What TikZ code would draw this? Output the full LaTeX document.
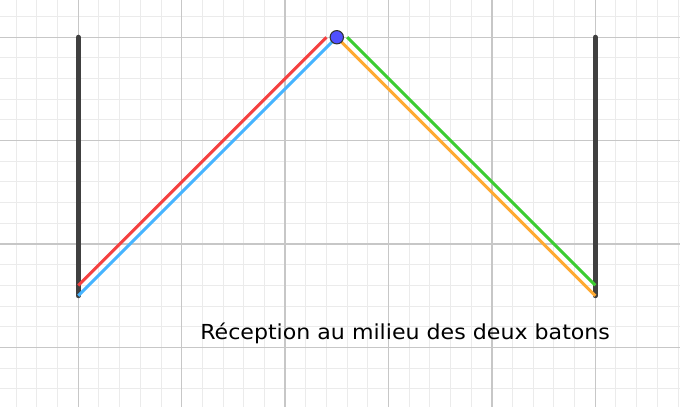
\documentclass[tikz,border=0pt]{standalone}
\usepackage{fontspec}
\setmainfont{DejaVu Sans}
\definecolor{rouge}{RGB}{245,64,64}
\definecolor{bleu}{RGB}{70,180,255}
\definecolor{vert}{RGB}{60,205,50}
\definecolor{jaune}{RGB}{255,170,50}
\definecolor{pointbleu}{RGB}{80,80,255}
\definecolor{baton}{RGB}{64,64,64}
\begin{document}
\begin{tikzpicture}[x=77.55pt,y=77.55pt,
  mineur/.style={draw=black!8,line width=0.75pt},
  majeur/.style={draw=black!22,line width=1pt},
  batonstyle/.style={draw=baton,line width=3.75pt,line cap=round},
  trajet/.style={line width=2.25pt}]
\clip (-0.757,-0.567) rectangle (5.819,3.36);
\fill[white] (-0.757,-0.567) rectangle (5.819,3.36);
\path[mineur] (-1,-1) grid[step=0.2] (6,4);
\path[majeur] (-1,-1) grid[step=1] (6,4);
\coordinate (Ghaut) at (0,3);
\coordinate (Gbas) at (0,0.5);
\coordinate (Dhaut) at (5,3);
\coordinate (Dbas) at (5,0.5);
\coordinate (Rhaut) at (2.4,3);
\coordinate (Rbas) at (0,0.6);
\coordinate (Vhaut) at (2.6,3);
\coordinate (Vbas) at (5,0.6);
\path[batonstyle] (Ghaut) -- (Gbas);
\path[batonstyle] (Dhaut) -- (Dbas);
\node[circle, inner sep=0pt, minimum size=12pt] (sommet) at (2.5,3) {};
\path[draw=rouge,trajet] (Rbas) -- (Rhaut);
\path[draw=bleu,trajet] (Gbas) -- (sommet.center);
\path[draw=vert,trajet] (Vhaut) -- (Vbas);
\path[draw=jaune,trajet] (sommet.center) -- (Dbas);
\node[draw=black!80, fill=pointbleu, circle, line width=0.8pt, inner sep=0pt, minimum size=10pt] at (sommet) {};
\node[anchor=base west, inner sep=0pt, font=\fontsize{15.5}{18}\selectfont] (legende) at (1.177,0.081) {\scalebox{1.07}[1]{Réception au milieu des deux batons}};
\end{tikzpicture}
\end{document}
